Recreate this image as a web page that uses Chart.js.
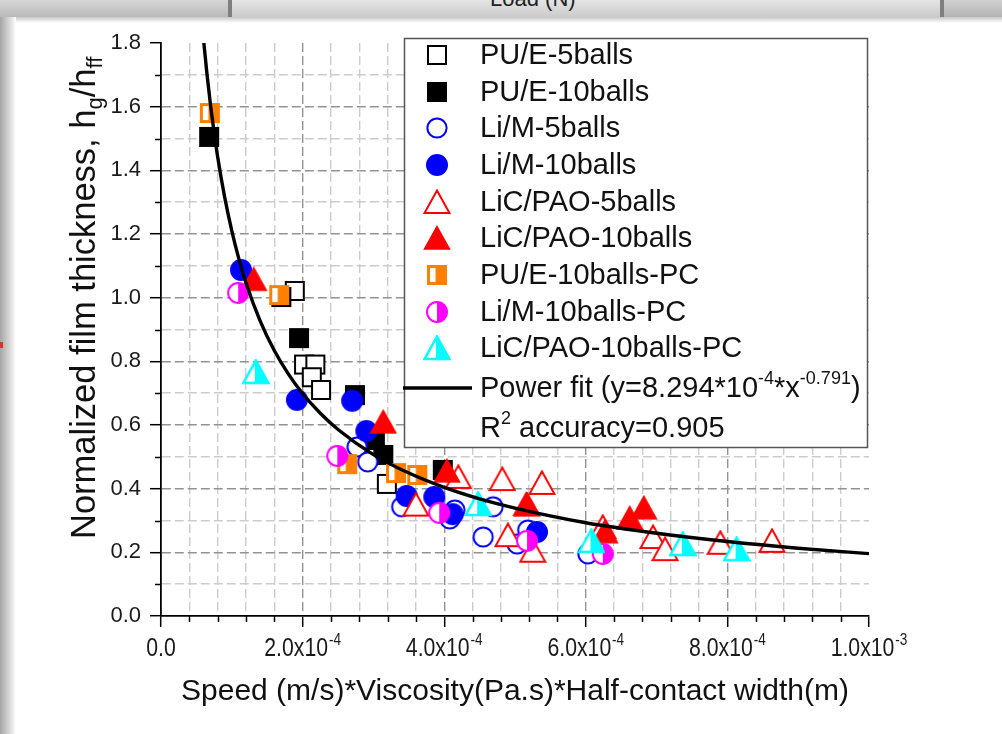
<!DOCTYPE html>
<html><head><meta charset="utf-8">
<script src="https://cdn.jsdelivr.net/npm/chart.js@4.4.1/dist/chart.umd.min.js"></script>
<style>
html,body{margin:0;padding:0;width:1002px;height:734px;overflow:hidden;background:#fff;}
#frame{position:absolute;left:0;top:0;width:1002px;height:734px;background:#fff;overflow:hidden;}
.tb{position:absolute;top:0;height:17px;overflow:hidden;}
#tbL{left:0;width:228px;background:linear-gradient(#d6d6d6,#b9b9b9);}
#tbD1{left:228px;width:4px;background:#7f7f7f;}
#tbM{left:232px;width:708px;background:linear-gradient(#e4e4e4,#cbcbcb);}
#tbText{position:absolute;left:258px;top:-14px;white-space:nowrap;font:22px 'Liberation Sans',Arial,sans-serif;color:#222;}
#tbD2{left:940px;width:4px;background:#7f7f7f;}
#tbR{left:944px;width:58px;background:linear-gradient(#d0d0d0,#b3b3b3);}
#shadowTop{position:absolute;left:0;top:17px;width:1002px;height:6px;background:linear-gradient(rgba(0,0,0,0.22),rgba(0,0,0,0));}
#shadowLeft{position:absolute;left:0;top:17px;width:16px;height:717px;background:linear-gradient(90deg,#a5a5a5,#e6e6e6 75%,#fff);}
#redmark{position:absolute;left:0;top:342px;width:3px;height:6px;background:#e03030;}
#c{position:absolute;left:0;top:0;}
</style></head>
<body>
<div id="frame">
  <div class="tb" id="tbL"></div><div class="tb" id="tbD1"></div>
  <div class="tb" id="tbM"><div id="tbText">Load (N)</div></div>
  <div class="tb" id="tbD2"></div><div class="tb" id="tbR"></div>
  <div id="shadowTop"></div><div id="shadowLeft"></div><div id="redmark"></div>
</div>
<canvas id="c" width="1002" height="734"></canvas>
<script>
// ---------- data (x values in units of 1e-4) ----------
const xTickValues = [0, 2, 4, 6, 8, 10];
const xTickMantissa = ['0.0', '2.0x10', '4.0x10', '6.0x10', '8.0x10', '1.0x10'];
const xTickExponent = ['', '-4', '-4', '-4', '-4', '-3'];
const yTickLabels = ['0.0','0.2','0.4','0.6','0.8','1.0','1.2','1.4','1.6','1.8'];

const seriesNames = ['PU/E-5balls','PU/E-10balls','Li/M-5balls','Li/M-10balls','LiC/PAO-5balls','LiC/PAO-10balls','PU/E-10balls-PC','Li/M-10balls-PC','LiC/PAO-10balls-PC'];

const puE5X = [1.89, 2.02, 2.18, 2.13, 2.26, 3.19];
const puE5Y = [1.021, 0.79, 0.79, 0.75, 0.71, 0.415];
const puE10X = [0.68, 1.70, 1.95, 2.74, 3.02, 3.14, 3.98];
const puE10Y = [1.505, 1.002, 0.873, 0.694, 0.553, 0.506, 0.459];
const liM5X = [2.77, 2.92, 3.40, 4.08, 4.15, 4.69, 4.55, 5.03, 5.18, 6.03];
const liM5Y = [0.531, 0.484, 0.343, 0.305, 0.333, 0.343, 0.248, 0.226, 0.27, 0.195];
const liM10X = [1.13, 1.92, 2.70, 2.90, 3.47, 3.86, 4.12, 5.31];
const liM10Y = [1.087, 0.679, 0.676, 0.581, 0.377, 0.374, 0.32, 0.264];
const licPao5X = [3.60, 4.20, 4.82, 5.38, 4.90, 5.25, 5.17, 6.24, 6.95, 7.12, 7.90, 8.63];
const licPao5Y = [0.35, 0.437, 0.43, 0.418, 0.254, 0.205, 0.35, 0.28, 0.248, 0.21, 0.23, 0.236];
const licPao10X = [1.31, 3.14, 4.04, 5.16, 6.27, 6.62, 6.82];
const licPao10Y = [1.058, 0.61, 0.456, 0.352, 0.265, 0.308, 0.34];
const puE10pcX = [0.69, 1.67, 2.63, 3.32, 3.62];
const puE10pcY = [1.58, 1.008, 0.477, 0.449, 0.443];
const liM10pcX = [1.09, 2.49, 3.93, 5.17, 6.24];
const liM10pcY = [1.015, 0.503, 0.324, 0.236, 0.195];
const licPao10pcX = [1.34, 4.48, 6.08, 7.37, 8.13];
const licPao10pcY = [0.767, 0.352, 0.236, 0.226, 0.21];

const fitX = [0.6, 0.65, 0.7, 0.75, 0.8, 0.9, 1.0, 1.1, 1.2, 1.4, 1.6, 1.8, 2.0, 2.25, 2.5, 3.0, 3.5, 4.0, 4.5, 5.0, 6.0, 7.0, 8.0, 9.0, 10.0];
const fitY = [1.812, 1.701, 1.604, 1.519, 1.443, 1.315, 1.210, 1.122, 1.047, 0.927, 0.834, 0.760, 0.699, 0.637, 0.586, 0.507, 0.449, 0.404, 0.368, 0.339, 0.293, 0.260, 0.234, 0.213, 0.196];
const fitLabel = ['Power fit (y=8.294*10', '-4', '*x', '-0.791', ')'];
const r2Label = ['R', '2', ' accuracy=0.905'];

// ---------- styling ----------
const FONT = "'Liberation Sans', Arial, Helvetica, sans-serif";
const BLUE = '#0000ff', RED = '#ff0000', ORANGE = '#ff8000', MAGENTA = '#ff00ff', CYAN = '#00ffff';

function mk(w, h, draw) { const c = document.createElement('canvas'); c.width = w; c.height = h; const g = c.getContext('2d'); draw(g, w, h); return c; }
function triPath(g) { g.beginPath(); g.moveTo(14, 1.5); g.lineTo(26.5, 24); g.lineTo(1.5, 24); g.closePath(); }
const markers = [
  mk(22, 22, g => { g.fillStyle = '#fff'; g.fillRect(1, 1, 20, 20); g.strokeStyle = '#000'; g.lineWidth = 2; g.strokeRect(2, 2, 18, 18); }),
  mk(22, 22, g => { g.fillStyle = '#000'; g.fillRect(1, 1, 20, 20); }),
  mk(24, 24, g => { g.beginPath(); g.arc(12, 12, 9.6, 0, Math.PI * 2); g.fillStyle = '#fff'; g.fill(); g.strokeStyle = BLUE; g.lineWidth = 2; g.stroke(); }),
  mk(24, 24, g => { g.beginPath(); g.arc(12, 12, 11, 0, Math.PI * 2); g.fillStyle = BLUE; g.fill(); }),
  mk(28, 26, g => { triPath(g); g.fillStyle = '#fff'; g.fill(); g.strokeStyle = RED; g.lineWidth = 2; g.stroke(); }),
  mk(28, 26, g => { triPath(g); g.fillStyle = RED; g.fill(); g.strokeStyle = RED; g.lineWidth = 1.5; g.stroke(); }),
  mk(22, 22, g => { g.fillStyle = ORANGE; g.fillRect(1, 1, 20, 20); g.fillStyle = '#fff'; g.fillRect(4, 4, 5.5, 14); }),
  mk(24, 24, g => { g.beginPath(); g.arc(12, 12, 11, 0, Math.PI * 2); g.fillStyle = MAGENTA; g.fill();
                    g.beginPath(); g.arc(12, 12, 9, Math.PI / 2, Math.PI * 1.5); g.closePath(); g.fillStyle = '#fff'; g.fill(); }),
  mk(28, 26, g => { triPath(g); g.save(); g.clip(); g.fillStyle = CYAN; g.fillRect(0, 0, 28, 26); g.fillStyle = '#fff'; g.fillRect(0, 0, 13, 26); g.restore();
                    triPath(g); g.strokeStyle = CYAN; g.lineWidth = 2.5; g.stroke(); })
];

function pts(xs, ys) { return xs.map((x, i) => ({ x: x * 1e-4, y: ys[i] })); }
const allX = [puE5X, puE10X, liM5X, liM10X, licPao5X, licPao10X, puE10pcX, liM10pcX, licPao10pcX];
const allY = [puE5Y, puE10Y, liM5Y, liM10Y, licPao5Y, licPao10Y, puE10pcY, liM10pcY, licPao10pcY];

const datasets = seriesNames.map((name, i) => ({
  label: name, data: pts(allX[i], allY[i]), pointStyle: markers[i], pointRadius: 10, pointHoverRadius: 10,
  showLine: false, order: 100 - i
}));
datasets.push({
  label: 'Power fit', data: pts(fitX, fitY), showLine: true, pointRadius: 0, borderColor: '#000', borderWidth: 3.4,
  cubicInterpolationMode: 'monotone', order: 0, fill: false
});

const isMajorX = v => Math.round(v / 4e-5) % 5 === 0;
const isMajorY = v => Math.round(v * 10) % 2 === 0;

function drawSupText(ctx, parts, x, y, size, supSize, supShift) {
  let cx = x;
  parts.forEach((p, i) => {
    const sup = i % 2 === 1;
    ctx.font = (sup ? supSize : size) + 'px ' + FONT;
    ctx.fillText(p, cx, sup ? y - supShift : y);
    cx += ctx.measureText(p).width;
  });
  return cx;
}

const customPlugin = {
  id: 'custom',
  afterDraw(chart) {
    const ctx = chart.ctx, xs = chart.scales.x, ys = chart.scales.y, area = chart.chartArea;
    ctx.save();
    // minor tick marks
    ctx.strokeStyle = '#000'; ctx.lineWidth = 1.5;
    ys.ticks.forEach(t => { if (!isMajorY(t.value)) { const py = Math.round(ys.getPixelForValue(t.value)) + 0.5; ctx.beginPath(); ctx.moveTo(area.left - 6, py); ctx.lineTo(area.left, py); ctx.stroke(); } });
    xs.ticks.forEach(t => { if (!isMajorX(t.value)) { const px = Math.round(xs.getPixelForValue(t.value)) + 0.5; ctx.beginPath(); ctx.moveTo(px, area.bottom); ctx.lineTo(px, area.bottom + 6); ctx.stroke(); } });

    // x tick labels with superscripts (condensed face)
    ctx.fillStyle = '#1a1a1a'; ctx.textBaseline = 'alphabetic'; ctx.textAlign = 'left';
    const sx = 0.85;
    xTickValues.forEach((v, i) => {
      const px = xs.getPixelForValue(v * 1e-4);
      ctx.font = '25px ' + FONT; const w1 = ctx.measureText(xTickMantissa[i]).width;
      ctx.font = '16px ' + FONT; const w2 = xTickExponent[i] ? ctx.measureText(xTickExponent[i]).width + 1 : 0;
      const tw = (w1 + w2) * sx;
      ctx.save(); ctx.translate(px - tw / 2, 656); ctx.scale(sx, 1);
      ctx.font = '25px ' + FONT; ctx.fillText(xTickMantissa[i], 0, 0);
      if (xTickExponent[i]) { ctx.font = '16px ' + FONT; ctx.fillText(xTickExponent[i], w1 + 1, -11); }
      ctx.restore();
    });

    // x axis title
    ctx.font = '30px ' + FONT; ctx.textAlign = 'center'; ctx.textBaseline = 'middle'; ctx.fillStyle = '#111';
    ctx.fillText('Speed (m/s)*Viscosity(Pa.s)*Half-contact width(m)', (area.left + area.right) / 2, 692);

    // y axis title (rotated) with subscripts
    const yParts = [['Normalized film thickness, h', false], ['g', true], ['/h', false], ['ff', true]];
    ctx.textAlign = 'left'; ctx.textBaseline = 'alphabetic';
    ctx.save(); ctx.translate(95, 539); ctx.rotate(-Math.PI / 2);
    let cx = 0;
    yParts.forEach(([t, sub]) => { ctx.font = (sub ? 22 : 34.5) + 'px ' + FONT; ctx.fillText(t, cx, sub ? 7 : 0); cx += ctx.measureText(t).width; });
    ctx.restore();

    // legend
    const bx = 404, by = 38, bw = 463, bh = 409;
    ctx.fillStyle = '#fff'; ctx.fillRect(bx, by, bw, bh);
    ctx.strokeStyle = '#555'; ctx.lineWidth = 1.5; ctx.strokeRect(bx + 0.5, by + 0.5, bw, bh);
    const rowY = [55, 92, 128, 165, 202, 238, 275, 312, 348];
    ctx.fillStyle = '#111'; ctx.textBaseline = 'middle'; ctx.textAlign = 'left';
    seriesNames.forEach((n, i) => {
      const m = markers[i];
      ctx.drawImage(m, 437 - m.width / 2, rowY[i] - m.height / 2);
      ctx.font = '29px ' + FONT; ctx.fillStyle = '#111';
      ctx.fillText(n, 480, rowY[i] + 1);
    });
    ctx.strokeStyle = '#000'; ctx.lineWidth = 3.5;
    ctx.beginPath(); ctx.moveTo(403, 388); ctx.lineTo(472, 388); ctx.stroke();
    ctx.fillStyle = '#111';
    drawSupText(ctx, fitLabel, 480, 389, 29, 18, 10);
    drawSupText(ctx, r2Label, 480, 429, 29, 18, 10);
    ctx.restore();
  }
};

const chart = new Chart(document.getElementById('c'), {
  type: 'scatter',
  data: { datasets },
  options: {
    responsive: false, animation: false, devicePixelRatio: 1,
    layout: { padding: { left: 0, right: 133, top: 43, bottom: 0 } },
    plugins: { legend: { display: false }, tooltip: { enabled: false } },
    scales: {
      x: {
        type: 'linear', min: 0, max: 1e-3,
        afterFit(s) { s.height = 118; },
        ticks: { stepSize: 4e-5, autoSkip: false, callback: () => '', maxRotation: 0 },
        grid: {
          color: c => (c.tick && (c.tick.value <= 0 || c.tick.value >= 9.99e-4)) ? 'rgba(0,0,0,0)' : (isMajorX(c.tick.value) ? '#939393' : '#cccccc'),
          lineWidth: 1.4, tickLength: 11,
          tickColor: c => isMajorX(c.tick.value) ? '#000' : 'rgba(0,0,0,0)', tickWidth: 1.5
        },
        border: { display: true, color: '#000', width: 1.8, dash: [9, 4] }
      },
      y: {
        min: 0, max: 1.8,
        afterFit(s) { s.width = 161; },
        ticks: {
          stepSize: 0.1, autoSkip: false, padding: 9, color: '#1a1a1a', font: { family: FONT, size: 22 },
          callback: v => isMajorY(v) ? yTickLabels[Math.round(v * 5)] : ''
        },
        grid: {
          color: c => (c.tick && (c.tick.value <= 0 || c.tick.value >= 1.79)) ? 'rgba(0,0,0,0)' : (isMajorY(c.tick.value) ? '#939393' : '#cccccc'),
          lineWidth: 1.4, tickLength: 11,
          tickColor: c => isMajorY(c.tick.value) ? '#000' : 'rgba(0,0,0,0)', tickWidth: 1.5
        },
        border: { display: true, color: '#000', width: 1.8, dash: [9, 4] }
      }
    }
  },
  plugins: [customPlugin]
});
</script>
</body></html>
